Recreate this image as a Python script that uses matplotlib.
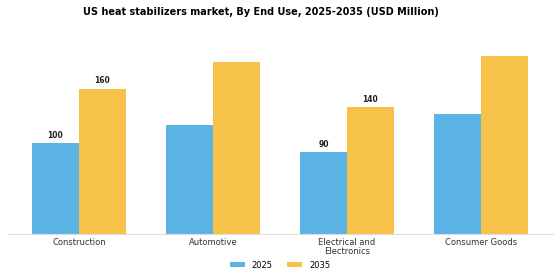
import numpy as np
import matplotlib.pyplot as plt

categories = ['Construction', 'Automotive', 'Electrical and\nElectronics', 'Consumer Goods']
values_2025 = [100, 120, 90, 132]
values_2035 = [160, 190, 140, 196]
labels_2025 = ['100', '', '90', '']
labels_2035 = ['160', '', '140', '']

blue = '#5BB3E6'
yellow = '#F7C24A'

fig = plt.figure(figsize=(5.6, 2.8), dpi=100)
ax = fig.add_axes([0.014, 0.164, 0.974, 0.68])

x = np.arange(len(categories))
w = 0.35
b1 = ax.bar(x - w / 2, values_2025, w, color=blue, label='2025')
b2 = ax.bar(x + w / 2, values_2035, w, color=yellow, label='2035')

for bars, labs in ((b1, labels_2025), (b2, labels_2035)):
    for bar, lab in zip(bars, labs):
        if lab:
            ax.text(bar.get_x() + bar.get_width() / 2, bar.get_height() + 4, lab,
                    ha='center', va='bottom', fontsize=5.5, fontweight='bold', color='#222222')

ax.set_xlim(-0.53, 3.54)
ax.set_ylim(0, 210)
ax.set_xticks(x)
ax.set_xticklabels(categories, fontsize=6, color='#333333', linespacing=1.0)
ax.tick_params(axis='x', length=0, pad=3)
ax.set_yticks([])
for s in ('top', 'right', 'left'):
    ax.spines[s].set_visible(False)
ax.spines['bottom'].set_color('#dddddd')

fig.suptitle('US heat stabilizers market, By End Use, 2025-2035 (USD Million)',
             fontsize=7, fontweight='bold', x=0.466, y=0.975)
fig.legend(loc='lower center', ncol=2, frameon=False, fontsize=6,
           bbox_to_anchor=(0.5, 0.01), handlelength=1.8, handleheight=0.5, columnspacing=1.8)

fig.savefig('out.png', dpi=100, facecolor='white')
